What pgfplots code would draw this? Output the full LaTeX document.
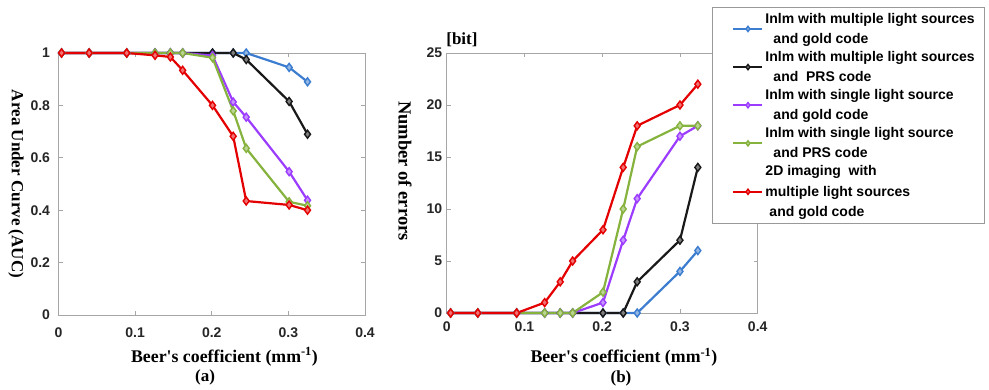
\documentclass[border=0pt]{standalone}
\usepackage{pgfplots}
\pgfplotsset{compat=1.18}
\usepackage{fontspec}
\setmainfont{Liberation Serif}
\setsansfont{Liberation Sans}

\definecolor{cblue}{RGB}{60,125,208}
\definecolor{cblack}{RGB}{25,25,25}
\definecolor{cpurple}{RGB}{155,60,255}
\definecolor{cgreen}{RGB}{134,178,62}
\definecolor{cred}{RGB}{228,0,0}

\pgfplotsset{
  ser/.style={color=#1, line width=2.2pt, mark=diamond*, mark size=4pt,
    mark options={solid, fill=#1!55!white, line width=1.4pt}},
  beer/.style={
    scale only axis, clip=false,
    xmin=0, xmax=0.4, xtick={0,0.1,0.2,0.3,0.4},
    axis line style={draw=black!35, line width=0.8pt},
    tick style={draw=black!35, line width=0.8pt},
    tick align=inside, major tick length=4pt,
    ticklabel style={font=\fontsize{14}{16.8}\selectfont\sffamily\bfseries, text=black!85},
    /pgf/number format/assume math mode=true,
    label style={font=\fontsize{17}{20.4}\selectfont\bfseries},
    xlabel style={font=\fontsize{17.8}{21}\selectfont\bfseries},
    ylabel style={rotate=180, anchor=center},
    xlabel style={anchor=center},
  },
}

% Beer's coefficient (mm^-1) of the samples
\pgfplotstableread{
x      blue  black purple green red
0.004  1     1     1      1     1
0.040  1     1     1      1     1
0.089  1     1     1      1     1
0.126  1     1     1      1     0.991
0.146  1     1     1      1     0.985
0.162  1     1     1      1     0.934
0.201  1     1     0.990  0.982 0.800
0.228  1     1     0.813  0.779 0.682
0.245  1     0.975 0.755  0.636 0.435
0.301  0.945 0.815 0.547  0.432 0.420
0.325  0.890 0.690 0.438  0.417 0.400
}\auc

\pgfplotstableread{
x      blue  black purple green red
0.005  0     0     0      0     0
0.040  0     0     0      0     0
0.090  0     0     0      0     0
0.126  0     0     0      0     1
0.146  0     0     0      0     3
0.162  0     0     0      0     5
0.201  0     0     1      2     8
0.227  0     0     7      10    14
0.245  0     3     11     16    18
0.300  4     7     17     18    20
0.323  6     14    18     18    22
}\errs

\newcommand{\beer}{Beer\textquotesingle s coefficient (mm\textsuperscript{-1})}

\begin{document}
\begin{tikzpicture}
\useasboundingbox (0,0) rectangle (989pt,390pt);

% (a) area under curve
\begin{axis}[beer,
  at={(58.5pt,75pt)}, anchor=south west,
  width=306.5pt, height=262pt,
  ymin=0, ymax=1, ytick={0,0.2,0.4,0.6,0.8,1},
  yticklabel style={xshift=-5pt},
  xticklabel style={yshift=-9pt},
  xlabel={\beer},
  xlabel style={at={(axis description cs:0.5416,-0.159)}},
  ylabel={Area Under Curve (AUC)},
  ylabel style={at={(axis description cs:-0.1387,0.5)}},
]
\addplot[ser=cblue]   table[y=blue]   {\auc};
\addplot[ser=cblack]  table[y=black]  {\auc};
\addplot[ser=cpurple] table[y=purple] {\auc};
\addplot[ser=cgreen]  table[y=green]  {\auc};
\addplot[ser=cred]    table[y=red]    {\auc};
\node[font=\fontsize{17}{20.4}\selectfont\bfseries] at (rel axis cs:0.478,-0.240) {(a)};
\end{axis}

% (b) number of bit errors
\begin{axis}[beer,
  at={(446.7pt,77pt)}, anchor=south west,
  width=311pt, height=260pt,
  ymin=0, ymax=25, ytick={0,5,10,15,20,25},
  yticklabel style={xshift=-1pt},
  xticklabel style={yshift=-5.5pt},
  xlabel={\beer},
  xlabel style={at={(axis description cs:0.570,-0.171)}},
  ylabel={Number of errors},
  ylabel style={at={(axis description cs:-0.134,0.546)}, font=\fontsize{18.5}{22}\selectfont\bfseries},
  legend cell align=left,
  legend style={at={(0.853,1.177)}, anchor=north west, draw=black!40, line width=0.8pt,
    font=\fontsize{14}{19.3}\selectfont\sffamily\bfseries, row sep=2pt,
    inner xsep=8pt, inner ysep=3.5pt, cells={align=left}},
  legend image code/.code={%
    \path (-12pt,0pt);
    \draw[mark size=2.6pt, line width=2pt, mark repeat=2, mark phase=2]
      plot coordinates {(0pt,0pt) (14.5pt,0pt) (29pt,0pt)};},
]
\addplot[ser=cblue]   table[y=blue]   {\errs};
\addlegendentry{Inlm with multiple light sources\\[1.2pt]\hspace*{8pt}and gold code}
\addplot[ser=cblack]  table[y=black]  {\errs};
\addlegendentry{Inlm with multiple light sources\\[1.2pt]\hspace*{8pt}and~ PRS code}
\addplot[ser=cpurple] table[y=purple] {\errs};
\addlegendentry{Inlm with single light source\\[1.2pt]\hspace*{8pt}and gold code}
\addplot[ser=cgreen]  table[y=green]  {\errs};
\addlegendentry{Inlm with single light source\\[1.2pt]\hspace*{8pt}and PRS code}
\addplot[ser=cred]    table[y=red]    {\errs};
\addlegendentry{2D imaging~ with\\[1.2pt]multiple light sources\\[1.2pt]\hspace*{4pt}and gold code}
\node[font=\fontsize{17}{20.4}\selectfont\bfseries] at (rel axis cs:0.049,1.05) {[bit]};
\node[font=\fontsize{17}{20.4}\selectfont\bfseries] at (rel axis cs:0.5605,-0.252) {(b)};
\end{axis}
\end{tikzpicture}
\end{document}
